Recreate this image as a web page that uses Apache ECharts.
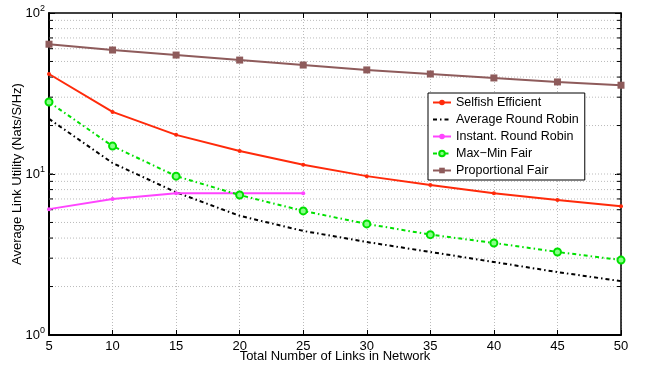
<!DOCTYPE html>
<html>
<head>
<meta charset="utf-8">
<script src="https://cdn.jsdelivr.net/npm/echarts@6/dist/echarts.min.js"></script>
<style>
  html, body { margin: 0; padding: 0; background: #fff; }
  #mainChart { width: 648px; height: 367px; }
</style>
</head>
<body>
<div id="mainChart"></div>
<script>
// number of links
const links = [5, 10, 15, 20, 25, 30, 35, 40, 45, 50];

const selfishEfficient = [41.8, 24.3, 17.5, 13.9, 11.4, 9.7, 8.55, 7.6, 6.9, 6.3];
const avgRoundRobin = [22, 11.7, 7.7, 5.5, 4.43, 3.78, 3.28, 2.84, 2.46, 2.16];
const instRoundRobin = [6.05, 7.0, 7.6, 7.6, 7.6];
const maxMinFair = [28, 14.9, 9.7, 7.4, 5.9, 4.9, 4.2, 3.73, 3.28, 2.92];
const proportionalFair = [64, 58.9, 54.8, 51, 47.5, 44.3, 41.8, 39.5, 37.3, 35.6];

// dotted horizontal grid + minor ticks (matlab style log grid)
const logGrid = [2, 3, 4, 5, 6, 7, 8, 9, 10, 20, 30, 40, 50, 60, 70, 80, 90];

const font = "'Liberation Sans', Arial, sans-serif";

function pairs(ys) {
  return ys.map((y, i) => [links[i], y]);
}

const chart = echarts.init(document.getElementById("mainChart"));

const option = {
  animation: false,
  textStyle: { fontFamily: font },
  grid: { left: 49, right: 27, top: 13, bottom: 32, containLabel: false, outerBoundsMode: "none" },
  legend: {
    orient: "vertical",
    left: 428,
    top: 93,
    backgroundColor: "#fff",
    borderColor: "#000",
    borderWidth: 1,
    borderRadius: 0,
    padding: [2, 6, 2, 4],
    itemWidth: 18,
    itemHeight: 7,
    itemGap: 2,
    textStyle: { fontFamily: font, fontSize: 12.5, color: "#000", lineHeight: 15 },
    data: ["Selfish Efficient", "Average Round Robin", "Instant. Round Robin", "Max\u2212Min Fair", "Proportional Fair"],
  },
  xAxis: [
    {
      type: "value",
      min: 5,
      max: 50,
      interval: 5,
      name: "Total Number of Links in Network",
      nameLocation: "middle",
      nameGap: 15,
      nameMoveOverlap: false,
      nameTextStyle: { fontSize: 13, color: "#000", fontFamily: font },
      axisLine: { lineStyle: { color: "#000", width: 2 } },
      axisTick: { inside: true, length: 5, lineStyle: { color: "#000", width: 1 } },
      axisLabel: { fontSize: 13, color: "#000", margin: 5 },
      splitLine: { show: true, lineStyle: { color: "#bbb", type: [1, 2], width: 1 } },
    },
    {
      type: "value",
      position: "top",
      min: 5,
      max: 50,
      interval: 5,
      axisLine: { onZero: false, lineStyle: { color: "#000", width: 1.5 } },
      axisTick: { inside: true, length: 5, lineStyle: { color: "#000" } },
      axisLabel: { show: false },
      splitLine: { show: false },
    },
  ],
  yAxis: [
    {
      type: "log",
      logBase: 10,
      min: 1,
      max: 100,
      name: "Average Link Utility (Nats/S/Hz)",
      nameLocation: "middle",
      nameGap: 25,
      nameMoveOverlap: false,
      nameTextStyle: { fontSize: 13, color: "#000", fontFamily: font },
      axisLine: { lineStyle: { color: "#000", width: 2 } },
      axisTick: { inside: true, length: 6, lineStyle: { color: "#000" } },
      axisLabel: {
        margin: 4,
        formatter: (v) => "{b|10}{s|" + Math.round(Math.log10(v)) + "}",
        rich: {
          b: { fontSize: 13, color: "#000", fontFamily: font },
          s: { fontSize: 9, color: "#000", fontFamily: font, padding: [0, 0, 9, 0] },
        },
      },
      splitLine: { show: false },
    },
    {
      type: "log",
      logBase: 10,
      min: 1,
      max: 100,
      position: "right",
      axisLine: { show: true, lineStyle: { color: "#000", width: 1.5 } },
      axisTick: { inside: true, length: 6, lineStyle: { color: "#000" } },
      axisLabel: { show: false },
      splitLine: { show: false },
    },
  ],
  series: [
    {
      // log grid lines and minor ticks, placed through the axis scale
      type: "custom",
      silent: true,
      z: 1,
      data: logGrid.map((v) => [5, v]),
      renderItem: (params, api) => {
        const v = api.value(1);
        const a = api.coord([5, v]);
        const b = api.coord([50, v]);
        return {
          type: "group",
          children: [
            {
              type: "line",
              shape: { x1: a[0], y1: a[1], x2: b[0], y2: b[1] },
              style: { stroke: "#bbb", lineWidth: 1, lineDash: [1, 2] },
            },
            {
              type: "line",
              shape: { x1: a[0], y1: a[1], x2: a[0] + 4, y2: a[1] },
              style: { stroke: "#000", lineWidth: 1 },
            },
            {
              type: "line",
              shape: { x1: b[0] - 4, y1: b[1], x2: b[0], y2: b[1] },
              style: { stroke: "#000", lineWidth: 1 },
            },
          ],
        };
      },
    },
    {
      name: "Selfish Efficient",
      type: "line",
      z: 5,
      data: pairs(selfishEfficient),
      symbol: "circle",
      symbolSize: 4,
      itemStyle: { color: "#ff2a0a" },
      lineStyle: { color: "#ff2a0a", width: 2 },
    },
    {
      name: "Average Round Robin",
      type: "line",
      z: 5,
      data: pairs(avgRoundRobin),
      symbol: "none",
      itemStyle: { color: "transparent" },
      lineStyle: { color: "#000", width: 2, type: [4, 3, 1.5, 3] },
    },
    {
      name: "Instant. Round Robin",
      type: "line",
      z: 5,
      data: pairs(instRoundRobin),
      symbol: "circle",
      symbolSize: 4,
      itemStyle: { color: "#ff44ff" },
      lineStyle: { color: "#ff44ff", width: 2 },
    },
    {
      name: "Max\u2212Min Fair",
      type: "line",
      z: 5,
      data: pairs(maxMinFair),
      symbol: "circle",
      symbolSize: 7,
      itemStyle: { color: "#88ff88", borderColor: "#00e000", borderWidth: 2 },
      lineStyle: { color: "#00e000", width: 2, type: [4, 3, 1.5, 3] },
    },
    {
      name: "Proportional Fair",
      type: "line",
      z: 5,
      data: pairs(proportionalFair),
      symbol: "rect",
      symbolSize: 7,
      itemStyle: { color: "#8e5b5b" },
      lineStyle: { color: "#8e5b5b", width: 2 },
    },
  ],
};

chart.setOption(option);
</script>
</body>
</html>
